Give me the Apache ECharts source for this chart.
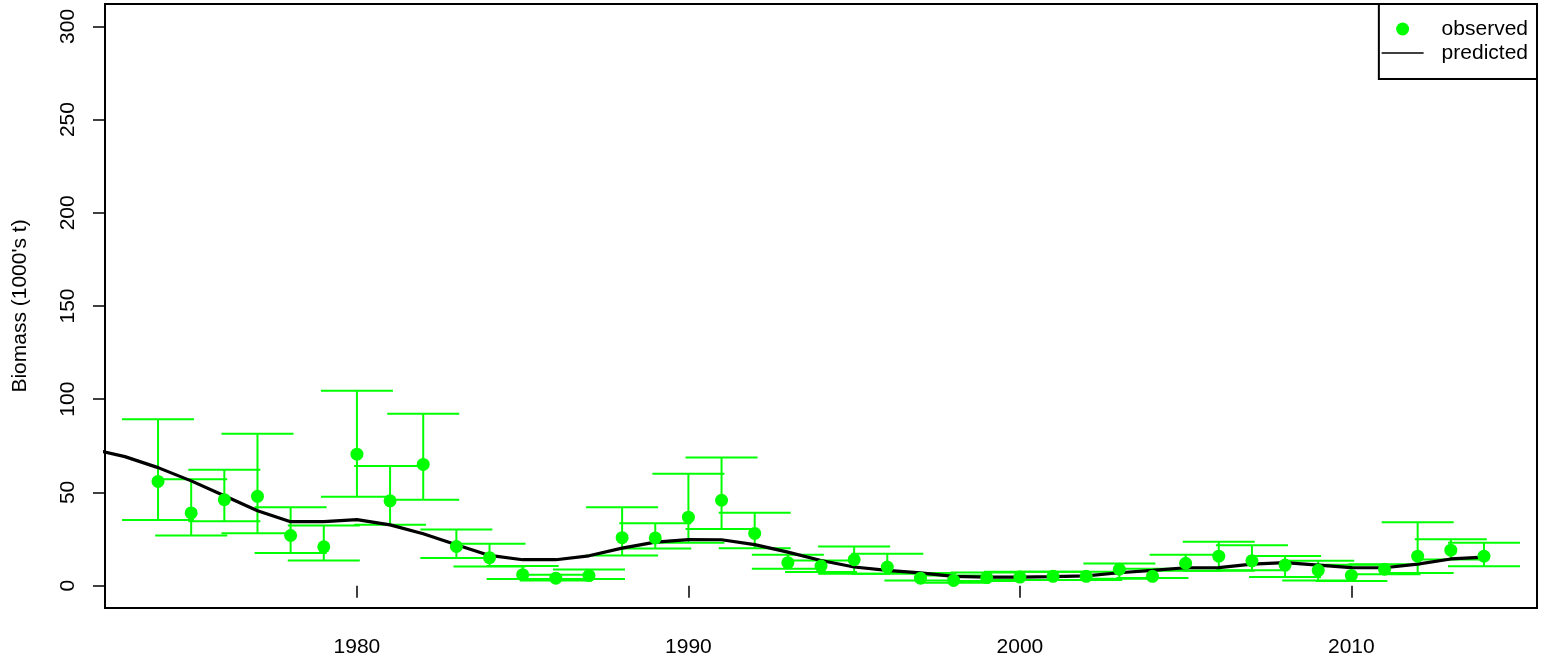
<!DOCTYPE html>
<html>
<head>
<meta charset="utf-8">
<script src="https://cdn.jsdelivr.net/npm/echarts@6/dist/echarts.min.js"></script>
<style>
html,body{margin:0;padding:0;background:#fff;}
#chart{width:1545px;height:667px;}
</style>
</head>
<body>
<div id="chart"></div>
<script>
// ---- data ----
const years = [1974,1975,1976,1977,1978,1979,1980,1981,1982,1983,1984,1985,1986,1987,1988,1989,1990,1991,1992,1993,1994,1995,1996,1997,1998,1999,2000,2001,2002,2003,2004,2005,2006,2007,2008,2009,2010,2011,2012,2013,2014];
const observed = [55.9,39.0,46.1,47.9,26.9,20.8,70.5,45.5,65.0,21.0,15.0,5.9,4.0,5.4,25.7,25.6,36.7,45.8,28.0,12.3,10.5,13.9,10.0,4.0,2.8,4.3,4.6,5.0,5.0,8.8,5.0,12.0,15.8,13.3,11.0,8.2,5.5,8.8,15.8,19.0,15.8];
const upper = [89.2,57.1,62.1,81.5,42.0,32.2,104.6,64.2,92.2,30.1,22.4,10.5,5.8,8.7,42.0,33.5,60.0,68.7,39.1,16.5,13.5,21.0,17.1,6.8,5.5,7.0,7.5,7.5,7.5,11.9,9.0,16.5,23.5,21.7,15.9,13.3,11.2,11.5,34.0,24.9,23.0];
const lower = [35.2,26.9,34.5,28.1,17.5,13.5,47.7,32.6,46.1,14.8,10.3,3.6,2.8,3.6,16.2,19.9,23.0,30.4,20.1,9.1,7.3,6.4,6.4,2.8,1.5,2.5,3.0,3.0,3.0,3.7,4.1,8.0,8.0,8.3,4.6,2.8,2.5,6.1,6.8,14.0,10.4];
const predYears = [1972,1973,1974,1975,1976,1977,1978,1979,1980,1981,1982,1983,1984,1985,1986,1987,1988,1989,1990,1991,1992,1993,1994,1995,1996,1997,1998,1999,2000,2001,2002,2003,2004,2005,2006,2007,2008,2009,2010,2011,2012,2013,2014];
const predicted = [73.2,69.2,63.3,56.2,48.2,40.2,34.3,34.3,35.4,32.6,27.8,21.9,16.2,13.9,13.9,16.0,20.1,23.3,24.7,24.6,22.0,18.0,13.5,10.0,8.2,6.8,5.0,4.6,4.6,4.8,5.2,6.9,8.2,9.6,9.7,11.5,12.3,11.0,9.7,9.6,11.5,14.3,15.3];
const xTicks = [1980,1990,2000,2010];
const yTicks = [0,50,100,150,200,250,300];
const yTitle = "Biomass (1000's t)";
const seriesNames = ['observed','predicted'];

// ---- chart ----
const FONT = 'Liberation Sans, Arial, Helvetica, sans-serif';
const GREEN = '#00ff00';
const FS = 21;
const chart = echarts.init(document.getElementById('chart'), null, {renderer:'canvas'});

const obsData = years.map((y,i)=>[y, observed[i]]);
const barData = years.map((y,i)=>[y, lower[i], upper[i]]);
const predData = predYears.map((y,i)=>[y, predicted[i]]);

const option = {
  animation:false,
  backgroundColor:'#fff',
  grid:{left:105, right:8, top:4, bottom:59, show:true, borderColor:'#000', borderWidth:2, backgroundColor:'transparent'},
  xAxis:{
    type:'value', min:1972.4, max:2015.6,
    axisLine:{show:false},
    splitLine:{show:false},
    axisTick:{show:true, length:12, inside:false, customValues:xTicks, lineStyle:{color:'#000', width:1.5}},
    axisLabel:{customValues:xTicks, formatter:function(v){return String(v);}, color:'#000', fontSize:FS, fontFamily:FONT, margin:29}
  },
  yAxis:{
    type:'value', min:-12, max:312,
    name:yTitle, nameLocation:'middle', nameRotate:90, nameGap:74,
    nameTextStyle:{color:'#000', fontSize:FS, fontFamily:FONT},
    axisLine:{show:false},
    splitLine:{show:false},
    axisTick:{show:true, length:12, inside:false, customValues:yTicks, lineStyle:{color:'#000', width:1.5}},
    axisLabel:{customValues:yTicks, formatter:function(v){return String(v);}, rotate:90, color:'#000', fontSize:FS, fontFamily:FONT, margin:26}
  },
  legend:{
    orient:'vertical', right:8, top:4,
    padding:[13,9,14,2],
    backgroundColor:'#fff', borderColor:'#000', borderWidth:2, borderRadius:0,
    itemWidth:42, itemHeight:13, itemGap:0,
    textStyle:{fontSize:FS, lineHeight:24, fontFamily:FONT, color:'#000', padding:[0,0,0,13]},
    data:[
      {name:seriesNames[0], icon:'circle', itemStyle:{color:GREEN}},
      {name:seriesNames[1], itemStyle:{opacity:0}, lineStyle:{width:1.5, color:'#000'}}
    ]
  },
  series:[
    {
      name:'errbars', type:'custom', z:1, data:barData,
      encode:{x:0, y:[1,2]},
      renderItem:function(params, api){
        const x = api.value(0);
        const lo = api.coord([x, api.value(1)]);
        const hi = api.coord([x, api.value(2)]);
        const hw = 36;
        const st = {stroke:GREEN, lineWidth:2};
        return {type:'group', children:[
          {type:'line', shape:{x1:lo[0], y1:lo[1], x2:hi[0], y2:hi[1]}, style:st},
          {type:'line', shape:{x1:hi[0]-hw, y1:hi[1], x2:hi[0]+hw, y2:hi[1]}, style:st},
          {type:'line', shape:{x1:lo[0]-hw, y1:lo[1], x2:lo[0]+hw, y2:lo[1]}, style:st}
        ]};
      },
      silent:true
    },
    {
      name:seriesNames[1], type:'line', z:2, data:predData,
      symbol:'none', showSymbol:false, clip:true,
      lineStyle:{color:'#000', width:3.2}, itemStyle:{color:'#000'}
    },
    {
      name:seriesNames[0], type:'scatter', z:3, data:obsData,
      symbol:'circle', symbolSize:13, itemStyle:{color:GREEN, opacity:1}
    }
  ]
};
chart.setOption(option);
</script>
</body>
</html>
